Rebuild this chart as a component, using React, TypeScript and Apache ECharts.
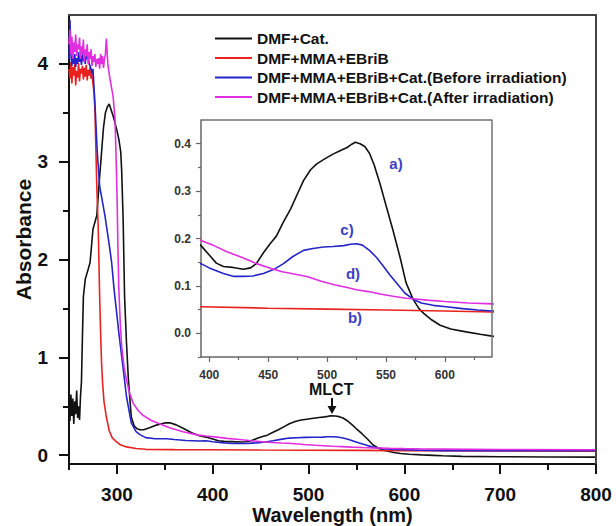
import React, { useEffect, useRef } from "react";
import * as echarts from "echarts";

const seriesNames = [
  "DMF+Cat.",
  "DMF+MMA+EBriB",
  "DMF+MMA+EBriB+Cat.(Before irradiation)",
  "DMF+MMA+EBriB+Cat.(After irradiation)",
];

const dmfCat: number[][] = [
  [250, 0.5], [251, 0.35], [252, 0.62], [253, 0.4], [254, 0.58], [255, 0.32], [256, 0.55], [257, 0.42],
  [258, 0.66], [259, 0.38], [260, 0.5], [261, 0.36], [262, 0.6], [263, 0.75], [264, 1.2], [265, 1.62],
  [267, 1.8], [270, 1.9], [272, 1.97], [275, 2.31], [279, 2.45], [282, 2.85], [284, 3.1], [286, 3.35],
  [288, 3.5], [290, 3.56], [292, 3.59], [294, 3.53], [296, 3.47], [298, 3.4], [300, 3.32], [302, 3.23],
  [304, 3.1], [305, 2.9], [306.5, 2.41], [308, 1.62], [310, 1.15], [312, 0.77], [315, 0.39], [318, 0.3],
  [321, 0.27], [324, 0.26], [328, 0.26], [334, 0.28], [342, 0.31], [350, 0.33], [356, 0.33], [362, 0.31],
  [370, 0.27], [378, 0.23], [386, 0.2], [393, 0.185], [400, 0.165], [406, 0.148], [412, 0.141], [420, 0.139],
  [429, 0.135], [435, 0.138], [440, 0.147], [446, 0.17], [452, 0.19], [457, 0.205], [463, 0.235], [469, 0.262],
  [475, 0.295], [480, 0.322], [486, 0.345], [491, 0.357], [498, 0.368], [505, 0.378], [511, 0.385], [517, 0.392],
  [521, 0.399], [524, 0.403], [528, 0.4], [532, 0.394], [536, 0.38], [540, 0.355], [545, 0.315], [550, 0.27],
  [556, 0.217], [562, 0.16], [567, 0.107], [573, 0.072], [578, 0.052], [582, 0.042], [589, 0.028], [596, 0.017],
  [605, 0.009], [618, 0.003], [630, -0.002], [640, -0.006], [660, -0.012], [700, -0.016], [750, -0.018], [800, -0.02],
];

const dmfMmaEbrib: number[][] = [
  [250, 3.95], [251, 3.85], [252, 4.02], [253, 3.8], [254, 3.97], [255, 3.88], [256, 4.0], [257, 3.78],
  [258, 3.93], [259, 3.86], [260, 4.01], [261, 3.82], [262, 3.95], [263, 3.9], [264, 3.98], [265, 3.84],
  [266, 3.96], [267, 3.87], [268, 3.99], [269, 3.83], [270, 3.94], [271, 3.88], [272, 3.97], [273, 3.85],
  [274, 3.9], [275, 3.8], [276, 3.72], [277, 3.54], [278, 3.15], [279, 2.75], [280.5, 2.32], [282, 1.62],
  [283, 1.25], [284, 0.94], [285, 0.75], [286.5, 0.55], [289, 0.39], [292, 0.25], [295, 0.18], [298, 0.15],
  [303, 0.11], [310, 0.085], [320, 0.068], [330, 0.06], [360, 0.057], [393, 0.056], [450, 0.053], [500, 0.051],
  [550, 0.049], [600, 0.047], [640, 0.045], [700, 0.043], [800, 0.04],
];

const beforeIrr: number[][] = [
  [250, 4.05], [251, 4.45], [252, 4.1], [253, 3.98], [254, 4.08], [255, 4.0], [256, 4.1], [257, 3.97],
  [258, 4.06], [259, 4.0], [260, 4.12], [261, 4.02], [262, 4.08], [263, 3.99], [264, 4.1], [265, 4.03],
  [266, 4.06], [267, 4.0], [268, 4.1], [269, 4.05], [270, 4.08], [271, 4.0], [272, 3.98], [273, 3.95],
  [274, 3.9], [275, 3.95], [277, 3.61], [279.5, 3.1], [282, 2.75], [287.5, 2.45], [292, 2.15], [294.5, 1.97],
  [297, 1.7], [299.7, 1.46], [302, 1.25], [305, 1.01], [310, 0.6], [315, 0.33], [320, 0.24], [324, 0.21],
  [330, 0.18], [340, 0.168], [352, 0.168], [360, 0.16], [372, 0.15], [386, 0.145], [393, 0.147], [400, 0.138],
  [412, 0.126], [421, 0.12], [429, 0.12], [437, 0.121], [446, 0.126], [455, 0.135], [463, 0.147], [471, 0.162],
  [480, 0.175], [488, 0.179], [497, 0.182], [505, 0.183], [514, 0.185], [520, 0.188], [525, 0.189], [530, 0.186],
  [536, 0.175], [542, 0.16], [548, 0.141], [553, 0.124], [559, 0.106], [566, 0.085], [573, 0.072], [580, 0.064],
  [590, 0.059], [601, 0.056], [615, 0.052], [628, 0.049], [640, 0.047], [700, 0.046], [800, 0.045],
];

const afterIrr: number[][] = [
  [250, 4.2], [251, 4.35], [252, 4.1], [253, 4.28], [254, 4.05], [255, 4.22], [256, 4.12], [257, 4.3],
  [258, 4.08], [259, 4.2], [260, 4.15], [261, 4.27], [262, 4.05], [263, 4.18], [264, 4.1], [265, 4.25],
  [266, 4.02], [267, 4.15], [268, 4.08], [269, 4.2], [270, 4.0], [271, 4.12], [272, 4.05], [273, 4.15],
  [274, 3.98], [275, 4.08], [276, 4.02], [277, 4.1], [278, 3.97], [279, 4.05], [280, 4.0], [281, 4.06],
  [282, 3.95], [283, 4.1], [284, 4.0], [285, 4.08], [286, 3.96], [287, 4.05], [288, 4.1], [289, 4.26],
  [290.5, 4.0], [292.7, 3.85], [296, 3.67], [298, 3.44], [299, 3.1], [300.3, 2.58], [301, 2.15], [302, 1.7],
  [303.5, 1.35], [305, 1.11], [307.5, 0.9], [310, 0.77], [313, 0.64], [317, 0.53], [322, 0.46], [327, 0.41],
  [335, 0.36], [345, 0.32], [355, 0.28], [369, 0.24], [385, 0.205], [393, 0.196], [404, 0.185], [415, 0.172],
  [428, 0.16], [440, 0.147], [452, 0.137], [462, 0.13], [472, 0.125], [483, 0.12], [495, 0.11], [507, 0.102],
  [516, 0.097], [525, 0.092], [535, 0.088], [545, 0.083], [556, 0.078], [567, 0.074], [573, 0.073], [585, 0.07],
  [600, 0.067], [620, 0.064], [640, 0.062], [700, 0.058], [800, 0.055],
];

const seriesData = [dmfCat, dmfMmaEbrib, beforeIrr, afterIrr];
const seriesColors = ["#111111", "#e8231f", "#2424c8", "#e02ee0"];

// axis ranges
const mainXRange = [250, 800];
const mainYRange = [-0.09, 4.5];
const insetXRange = [393, 640];
const insetYRange = [-0.05, 0.45];

const mainXMajor = [300, 400, 500, 600, 700, 800];
const mainXMinor = [250, 350, 450, 550, 650, 750];
const mainYMajor = [0, 1, 2, 3, 4];
const mainYMinor = [0.5, 1.5, 2.5, 3.5];
const insetXMajor = [400, 450, 500, 550, 600];
const insetXMinor = [425, 475, 525, 575, 625];
const insetYMajor = [0, 0.1, 0.2, 0.3, 0.4];
const insetYMinor = [-0.05, 0.05, 0.15, 0.25, 0.35];

const insetLabels = [
  { text: "a)", x: 396, y: 163 },
  { text: "c)", x: 347, y: 229 },
  { text: "d)", x: 353, y: 273 },
  { text: "b)", x: 355, y: 317 },
];

const FONT = "Arial, 'Liberation Sans', Helvetica, sans-serif";

export default function App() {
  const ref = useRef<HTMLDivElement>(null);
  useEffect(() => {
    if (!ref.current) return;
    const chart = echarts.init(ref.current, undefined, { renderer: "svg" });

    const mkX = (grid: number, r: number[], opts: any) => ({
      type: "value",
      gridIndex: grid,
      min: r[0],
      max: r[1],
      position: "bottom",
      splitLine: { show: false },
      ...opts,
    });
    const mkY = (grid: number, r: number[], opts: any) => ({
      type: "value",
      gridIndex: grid,
      min: r[0],
      max: r[1],
      position: "left",
      splitLine: { show: false },
      ...opts,
    });

    const line = (color: string, width: number, show = true) => ({
      show,
      onZero: false,
      lineStyle: { color, width },
    });

    const xAxis = [
      mkX(0, mainXRange, {
        axisLine: line("#111", 2),
        axisTick: { show: true, inside: false, length: 10, customValues: mainXMajor, lineStyle: { color: "#111", width: 2 } },
        axisLabel: {
          show: true,
          customValues: mainXMajor,
          margin: 21,
          fontSize: 19,
          lineHeight: 19,
          fontWeight: "bold",
          color: "#111",
          fontFamily: FONT,
        },
        name: "Wavelength (nm)",
        nameLocation: "middle",
        nameGap: 41,
        nameMoveOverlap: false,
        nameTextStyle: { fontSize: 20, lineHeight: 20, fontWeight: "bold", color: "#111", fontFamily: FONT },
      }),
      mkX(0, mainXRange, {
        axisLine: line("#111", 2, false),
        axisTick: { show: true, inside: false, length: 6, customValues: mainXMinor, lineStyle: { color: "#111", width: 2 } },
        axisLabel: { show: false },
      }),
      mkX(1, insetXRange, {
        axisLine: line("#666", 1.5),
        axisTick: { show: true, inside: false, length: 5, customValues: insetXMajor, lineStyle: { color: "#666", width: 1.2 } },
        axisLabel: {
          show: true,
          customValues: insetXMajor,
          margin: 12,
          fontSize: 12,
          fontWeight: "bold",
          color: "#333",
          fontFamily: FONT,
        },
      }),
      mkX(1, insetXRange, {
        axisLine: line("#666", 1.5, false),
        axisTick: { show: true, inside: false, length: 3, customValues: insetXMinor, lineStyle: { color: "#666", width: 1.2 } },
        axisLabel: { show: false },
      }),
      mkX(0, mainXRange, {
        position: "top",
        axisLine: line("#444", 2),
        axisTick: { show: false },
        axisLabel: { show: false },
      }),
    ];

    const yAxis = [
      mkY(0, mainYRange, {
        axisLine: line("#111", 2),
        axisTick: { show: true, inside: false, length: 10, customValues: mainYMajor, lineStyle: { color: "#111", width: 2 } },
        axisLabel: {
          show: true,
          customValues: mainYMajor,
          margin: 21,
          fontSize: 19,
          fontWeight: "bold",
          color: "#111",
          fontFamily: FONT,
        },
        name: "Absorbance",
        nameLocation: "middle",
        nameGap: 35,
        nameRotate: 90,
        nameMoveOverlap: false,
        nameTextStyle: { fontSize: 21, fontWeight: "bold", color: "#111", fontFamily: FONT },
      }),
      mkY(0, mainYRange, {
        axisLine: line("#111", 2, false),
        axisTick: { show: true, inside: false, length: 6, customValues: mainYMinor, lineStyle: { color: "#111", width: 2 } },
        axisLabel: { show: false },
      }),
      mkY(1, insetYRange, {
        axisLine: line("#666", 1.5),
        axisTick: { show: true, inside: false, length: 5, customValues: insetYMajor, lineStyle: { color: "#666", width: 1.2 } },
        axisLabel: {
          show: true,
          customValues: insetYMajor,
          margin: 10,
          fontSize: 12,
          fontWeight: "bold",
          color: "#333",
          fontFamily: FONT,
          formatter: (v: number) => v.toFixed(1),
        },
      }),
      mkY(1, insetYRange, {
        axisLine: line("#666", 1.5, false),
        axisTick: { show: true, inside: false, length: 3, customValues: insetYMinor, lineStyle: { color: "#666", width: 1.2 } },
        axisLabel: { show: false },
      }),
      mkY(0, mainYRange, {
        position: "right",
        axisLine: line("#444", 2),
        axisTick: { show: false },
        axisLabel: { show: false },
      }),
    ];

    const series: any[] = [];
    seriesNames.forEach((name, i) => {
      series.push({
        type: "line",
        name,
        xAxisIndex: 0,
        yAxisIndex: 0,
        data: seriesData[i],
        showSymbol: false,
        symbol: "none",
        lineStyle: { color: seriesColors[i], width: 1.6 },
        itemStyle: { color: seriesColors[i] },
        clip: true,
        z: 3,
      });
    });
    seriesNames.forEach((name, i) => {
      series.push({
        type: "line",
        name,
        xAxisIndex: 2,
        yAxisIndex: 2,
        data: seriesData[i],
        showSymbol: false,
        symbol: "none",
        lineStyle: { color: seriesColors[i], width: 1.6 },
        itemStyle: { color: seriesColors[i] },
        clip: true,
        z: 5,
      });
    });
    // top/right frame of each plot, drawn through the axes at their extents
    series.push({
      type: "line",
      name: "frameMain",
      xAxisIndex: 0,
      yAxisIndex: 0,
      data: [[mainXRange[0], mainYRange[1]], [mainXRange[1], mainYRange[1]], [mainXRange[1], mainYRange[0]]],
      symbol: "none",
      showSymbol: false,
      clip: false,
      silent: true,
      lineStyle: { color: "#444444", width: 2 },
      itemStyle: { color: "#444444" },
      z: 8,
    });
    series.push({
      type: "line",
      name: "frameInset",
      xAxisIndex: 3,
      yAxisIndex: 3,
      data: [[insetXRange[0], insetYRange[1]], [insetXRange[1], insetYRange[1]], [insetXRange[1], insetYRange[0]]],
      symbol: "none",
      showSymbol: false,
      clip: false,
      silent: true,
      lineStyle: { color: "#707070", width: 1.5 },
      itemStyle: { color: "#707070" },
      z: 8,
    });

    const graphic: any[] = [
      {
        type: "text",
        left: 309,
        top: 381,
        style: { text: "MLCT", fontSize: 16, fontWeight: "bold", fill: "#111", fontFamily: FONT },
        z: 10,
      },
      {
        type: "line",
        shape: { x1: 332, y1: 398, x2: 332, y2: 408 },
        style: { stroke: "#111", lineWidth: 2 },
        z: 10,
      },
      {
        type: "polygon",
        shape: { points: [[327.5, 406], [336.5, 406], [332, 414]] },
        style: { fill: "#111" },
        z: 10,
      },
      ...insetLabels.map((l) => ({
        type: "text",
        x: l.x,
        y: l.y,
        style: {
          text: l.text,
          fontSize: 15,
          fontWeight: "bold",
          fill: "#3b40c4",
          fontFamily: FONT,
          align: "center",
          verticalAlign: "middle",
        },
        z: 10,
      })),
    ];

    chart.setOption({
      animation: false,
      backgroundColor: "#fff",
      grid: [
        { left: 69, top: 15, width: 527, height: 449, outerBoundsMode: "none", containLabel: false },
        { left: 201, top: 120, width: 291, height: 237, outerBoundsMode: "none", containLabel: false, show: true, backgroundColor: "#fff", borderWidth: 0 },
      ],
      legend: {
        orient: "vertical",
        left: 215,
        top: 30,
        itemWidth: 37,
        itemHeight: 2,
        itemGap: 2.5,
        icon: "rect",
        data: seriesNames,
        textStyle: { fontSize: 15.5, fontWeight: "bold", color: "#111", fontFamily: FONT, lineHeight: 17 },
        padding: 0,
        selectedMode: false,
      },
      xAxis,
      yAxis,
      series,
      graphic,
    });
    return () => chart.dispose();
  }, []);

  return (
    <div
      ref={ref}
      style={{ position: "fixed", left: 0, top: 0, width: 616, height: 526, background: "#fff" }}
    />
  );
}
